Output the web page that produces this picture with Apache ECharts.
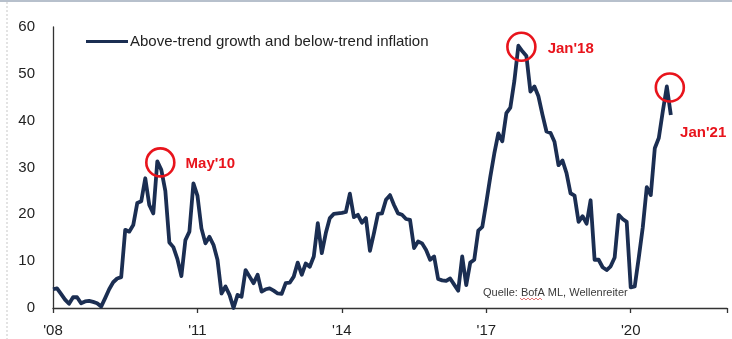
<!DOCTYPE html>
<html>
<head>
<meta charset="utf-8">
<script src="https://cdn.jsdelivr.net/npm/echarts@6/dist/echarts.min.js"></script>
<style>
  html, body { margin: 0; padding: 0; background: #fff; }
  #chart { width: 732px; height: 339px; }
</style>
</head>
<body>
<div id="chart"></div>
<script>
// Monthly readings, January 2008 onwards (share of responses, %)
const seriesName = 'Above-trend growth and below-trend inflation';
const monthlyValues = [
  4.0, 4.2, 3.0, 1.8, 0.9, 2.3, 2.3, 1.0, 1.4, 1.5, 1.3, 1.0,
  0.3, 2.1, 4.0, 5.5, 6.3, 6.6, 16.7, 16.3, 17.7, 22.4, 22.8, 27.7,
  22.0, 20.2, 31.3, 29.5, 25.0, 14.0, 13.0, 10.5, 6.8, 14.5, 16.3, 26.6,
  24.0, 17.0, 13.8, 15.2, 13.5, 10.3, 3.1, 4.6, 2.8, 0.0, 2.8, 2.4,
  8.1, 6.7, 5.3, 7.1, 3.5, 4.0, 4.2, 3.7, 3.1, 3.0, 5.3, 5.4,
  6.7, 9.7, 7.1, 9.5, 8.8, 11.0, 18.1, 11.7, 16.0, 19.2, 20.1, 20.2,
  20.3, 20.5, 24.4, 19.4, 19.9, 18.2, 19.2, 12.2, 16.0, 20.1, 20.2, 23.1,
  24.1, 22.0, 20.2, 19.9, 19.0, 18.8, 12.8, 14.2, 13.8, 12.4, 10.3, 11.0,
  6.2, 5.9, 5.8, 6.3, 5.0, 3.7, 11.0, 4.9, 9.7, 10.3, 16.5, 17.3,
  22.5, 28.0, 33.0, 37.3, 35.6, 41.6, 42.8, 48.5, 56.0, 54.8, 53.8, 46.2,
  47.3, 45.2, 41.3, 37.7, 37.4, 35.5, 30.5, 31.5, 28.8, 24.5, 24.0, 18.4,
  19.6, 18.0, 23.0, 10.3, 10.3, 8.7, 8.1, 8.9, 10.8, 19.9, 19.0, 18.4,
  4.4, 4.6, 10.7, 17.2, 25.8, 24.1, 34.1, 36.3, 42.0, 47.3, 41.2
];

// Axis ticks: years since 2008, labelled every three years
const xTickLabels = ["'08", "'11", "'14", "'17", "'20"];

// Highlighted peaks
const peakLabels = ["May'10", "Jan'18", "Jan'21"];
const peakIndex = [26, 116, 153];
const peakLabelOffset = [[0, 1], [1, 2], [-15, 45]];

const sourceNote = 'Quelle: BofA ML, Wellenreiter';

const lineData = monthlyValues.map((v, i) => [i / 12, v]);

const RED = '#e8141c';
const NAVY = '#1b2e52';
const FONT = 'Liberation Sans, Arial, sans-serif';

const peakMarks = peakIndex.map((idx, k) => ({
  name: peakLabels[k],
  coord: [idx / 12, monthlyValues[idx]],
  label: {
    show: true,
    formatter: peakLabels[k],
    position: 'right',
    distance: 10,
    offset: peakLabelOffset[k],
    color: RED,
    fontSize: 15,
    fontWeight: 'bold',
    fontFamily: FONT
  }
}));

const chart = echarts.init(document.getElementById('chart'), null, { renderer: 'canvas' });

chart.setOption({
  animation: false,
  backgroundColor: '#ffffff',
  textStyle: { fontFamily: FONT },
  grid: { left: 53, right: 5, top: 27, bottom: 31, containLabel: false },
  legend: {
    show: true,
    left: 86,
    top: 34,
    padding: 0,
    icon: 'rect',
    itemWidth: 42,
    itemHeight: 3,
    data: [{ name: seriesName, itemStyle: { color: NAVY } }],
    textStyle: { fontSize: 15, color: '#222', fontFamily: FONT, padding: [0, 0, 0, -3] }
  },
  xAxis: {
    type: 'value',
    min: 0,
    max: 14,
    interval: 3,
    axisLine: { show: true, lineStyle: { color: '#333', width: 1.3 } },
    axisTick: { show: true, length: 5, lineStyle: { color: '#333', width: 1.3 } },
    splitLine: { show: false },
    axisLabel: {
      fontSize: 15,
      color: '#222',
      margin: 15,
      formatter: (v) => xTickLabels[Math.round(v / 3)] || ''
    }
  },
  yAxis: {
    type: 'value',
    min: 0,
    max: 60,
    interval: 10,
    axisLine: { show: true, lineStyle: { color: '#333', width: 1.3 } },
    axisTick: { show: false },
    splitLine: { show: false },
    axisLabel: { fontSize: 15, color: '#222', margin: 18 }
  },
  series: [{
    name: seriesName,
    type: 'line',
    data: lineData,
    symbol: 'none',
    showSymbol: false,
    lineStyle: { color: NAVY, width: 3.8, join: 'round' },
    itemStyle: { color: NAVY },
    markPoint: {
      symbol: 'circle',
      symbolSize: 28,
      symbolOffset: [3, 1],
      itemStyle: { color: 'rgba(255,255,255,0)', borderColor: RED, borderWidth: 2.6 },
      data: peakMarks
    }
  }],
  graphic: [
    { type: 'rect', left: 0, top: 0, shape: { width: 732, height: 2 }, style: { fill: '#b7c0cc' }, silent: true },
    { type: 'line', shape: { x1: 7, y1: 2, x2: 7, y2: 339 }, style: { stroke: '#c8c8c8', lineWidth: 1, lineDash: [2, 2] }, silent: true },
    {
      type: 'text', left: 483, top: 287,
      style: { text: sourceNote, fontSize: 11, fill: '#3a3a3a', fontFamily: FONT },
      silent: true
    },
    {
      type: 'polyline', silent: true,
      shape: { points: [[520,298],[522,300],[524,298],[526,300],[528,298],[530,300],[532,298],[534,300],[536,298],[538,300],[540,298],[542,300]] },
      style: { stroke: '#e05050', lineWidth: 0.8, fill: null }
    }
  ]
});
</script>
</body>
</html>
